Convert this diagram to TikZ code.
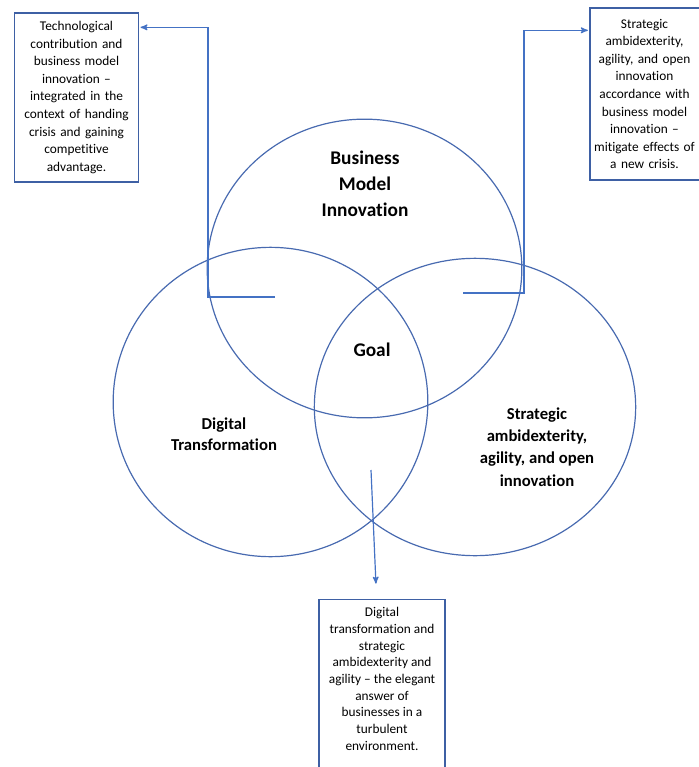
\documentclass[tikz,border=0pt]{standalone}
\usepackage{fontspec}
\setmainfont{Carlito}[Ligatures=NoCommon]
\usetikzlibrary{arrows,calc,shapes.geometric,positioning}

\definecolor{ringblue}{RGB}{72,106,176}
\definecolor{linkblue}{RGB}{68,114,196}
\definecolor{boxblue}{RGB}{62,96,164}

\begin{document}
\begin{tikzpicture}[x=0.75pt,y=-0.75pt,>=stealth',
    ring/.style={ellipse,draw=ringblue,line width=0.9pt,inner sep=0pt},
    note/.style={rectangle,draw=boxblue,line width=1pt,inner sep=2pt,align=center,
      font=\fontsize{10}{13.2}\selectfont},
    label text/.style={align=center,font=\bfseries},
    link/.style={->,draw=linkblue,line width=0.9pt,shorten >=1pt}]

\useasboundingbox (0,0) rectangle (699,767);

% the three circles
\node[ring,minimum width=236pt,minimum height=224pt] (bmi) at (364.5,268.5) {};
\node[ring,minimum width=236pt,minimum height=232pt] (dt) at (270.5,402) {};
\node[ring,minimum width=241pt,minimum height=223pt] (sa) at (475,407) {};

\node[label text,font=\fontsize{14.5}{19.5}\selectfont\bfseries] (bmitext) at (365,184) {Business\\Model\\Innovation};
\node[label text,font=\fontsize{14.5}{19.5}\selectfont\bfseries] (goal) at (372,350) {Goal};
\node[label text,font=\fontsize{12.5}{16}\selectfont\bfseries] (dttext) at (224,434) {Digital\\Transformation};
\node[label text,font=\fontsize{12.5}{16.7}\selectfont\bfseries] (satext) at (537,447) {Strategic\\ambidexterity,\\agility, and open\\innovation};

% the three notes
\node[note,text width=89pt,minimum height=126.75pt] (techbox) at (76.5,97.5)
  {Technological\\contribution and\\business model\\innovation --\\integrated in the\\context of handing\\crisis and gaining\\competitive\\advantage.};
\node[note,text width=78pt,minimum height=129pt] (crisisbox) at (644.5,94)
  {Strategic\\ambidexterity,\\agility, and open\\innovation\\accordance with\\business model\\innovation --\\mitigate effects of\\a new crisis.};
\node[note,anchor=north,inner sep=0pt] (digbox) at (382,599)
  {\parbox[t][134pt][t]{94.5pt}{\centering\fontsize{10}{12.5}\selectfont\vspace{6pt}Digital\\transformation and\\strategic\\ambidexterity and\\agility -- the elegant\\answer of\\businesses in a\\turbulent\\environment.}};

% connectors
\coordinate (bmiA) at (275,297);
\coordinate (saA) at (463,293);
\coordinate (goalA) at (371,470);

\draw[link] (bmiA) -- (208,297) |- ($(techbox.north east)+(0,15)$);
\draw[link] (saA) -- (524,293) |- ($(crisisbox.north west)+(0,23)$);
\draw[link] (goalA) -- ($(digbox.north)+(-6,-14)$);

\end{tikzpicture}
\end{document}
